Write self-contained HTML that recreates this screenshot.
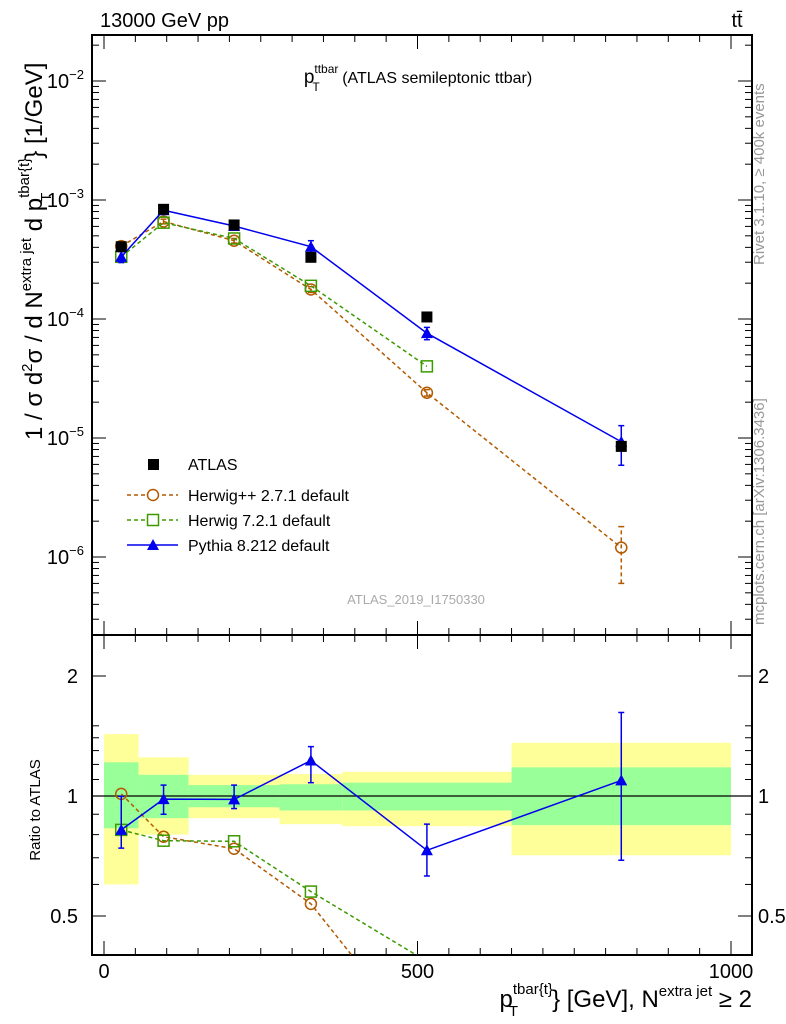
<!DOCTYPE html>
<html><head><meta charset="utf-8"><style>
html,body{margin:0;background:#fff;overflow:hidden;width:786px;height:1024px}
svg{display:block;font-family:"Liberation Sans",sans-serif}
</style></head><body>
<svg id="c" width="786" height="1024" viewBox="0 0 786 1024" xmlns="http://www.w3.org/2000/svg">
<text x="100" y="27" font-size="20">13000 GeV pp</text>
<text x="737" y="27" font-size="20" text-anchor="middle">tt̄</text>
<text x="418" y="83" font-size="19" text-anchor="middle">p<tspan font-size="12" dy="-10">ttbar</tspan><tspan font-size="12" dx="-26" dy="18">T</tspan><tspan dy="-8" dx="18" font-size="16"> (ATLAS semileptonic ttbar)</tspan></text>
<text transform="translate(764,265) rotate(-90)" font-size="15" fill="#999">Rivet 3.1.10, ≥ 400k events</text>
<text transform="translate(764,625) rotate(-90)" font-size="15" fill="#999">mcplots.cern.ch [arXiv:1306.3436]</text>
<text x="416" y="604" font-size="13" fill="#aaa" text-anchor="middle">ATLAS_2019_I1750330</text>
<text transform="translate(42,440) rotate(-90)" font-size="24">1 / σ d<tspan font-size="15" dy="-10">2</tspan><tspan dy="10">σ / d N</tspan><tspan font-size="15" dy="-11">extra jet</tspan><tspan dy="11"> d p</tspan><tspan font-size="15" dy="-13">tbar{t}</tspan><tspan font-size="15" dx="-44" dy="22">T</tspan><tspan dy="-9" dx="34">} [1/GeV]</tspan></text>
<text transform="translate(40,810) rotate(-90)" font-size="15" text-anchor="middle">Ratio to ATLAS</text>
<text x="752" y="1007" font-size="24" text-anchor="end">p<tspan font-size="15" dy="-13">tbar{t}</tspan><tspan font-size="15" dx="-44" dy="22">T</tspan><tspan dy="-9" dx="34">} [GeV], N</tspan><tspan font-size="15" dy="-11">extra jet</tspan><tspan dy="11"> ≥ 2</tspan></text>
<g id="legend">
<rect x="148" y="459" width="11" height="11" fill="#000"/>
<text x="188" y="470" font-size="16">ATLAS</text>
<line x1="127" y1="495" x2="178" y2="495" stroke="#b35900" stroke-width="1.5" stroke-dasharray="4,3"/>
<circle cx="153" cy="495" r="5.5" fill="#fff" stroke="#b35900" stroke-width="1.5"/>
<text x="188" y="501" font-size="16">Herwig++ 2.7.1 default</text>
<line x1="127" y1="520" x2="178" y2="520" stroke="#3c9a00" stroke-width="1.5" stroke-dasharray="4,3"/>
<rect x="147.5" y="514.5" width="11" height="11" fill="#fff" stroke="#3c9a00" stroke-width="1.5"/>
<text x="188" y="526" font-size="16">Herwig 7.2.1 default</text>
<line x1="127" y1="545" x2="178" y2="545" stroke="#0000ee" stroke-width="1.5"/>
<path d="M147,550 L153,539 L159,550Z" fill="#0000ee"/>
<text x="188" y="551" font-size="16">Pythia 8.212 default</text>
</g>
</svg>
<script>
const binEdges=[0,55,135,280,380,650,1000];
const binCenters=[27.5,95,207.5,330,515,825];
const atlas=[4.05e-4,8.35e-4,6.17e-4,3.3e-4,1.04e-4,8.5e-6];
const pythia=[3.33e-4,8.2e-4,6.05e-4,4.05e-4,7.6e-5,9.3e-6];
const pythiaErr=[0.35e-4,0.5e-4,0.4e-4,0.5e-4,0.9e-5,3.4e-6];
const herwigpp=[4.1e-4,6.6e-4,4.55e-4,1.77e-4,2.4e-5,1.2e-6];
const herwigppErr=[0.2e-4,0.3e-4,0.2e-4,0.1e-4,0.15e-5,0.6e-6];
const herwig7=[3.33e-4,6.45e-4,4.75e-4,1.9e-4,4.0e-5];
const yellowHi=[1.43,1.25,1.13,1.135,1.15,1.36];
const yellowLo=[0.6,0.8,0.88,0.85,0.84,0.71];
const greenHi=[1.215,1.13,1.065,1.07,1.08,1.18];
const greenLo=[0.83,0.88,0.937,0.92,0.92,0.845];
const pyRatioErrHi=[0.998,1.065,1.065,1.33,0.85,1.62];
const pyRatioErrLo=[0.74,0.9,0.93,1.08,0.63,0.69];
const mainTicks=[-2,-3,-4,-5,-6];
const ratioTicks=[0.5,1,2];
const xTicks=[0,500,1000];

const NS="http://www.w3.org/2000/svg";
const svg=document.getElementById('c');
const L=92,R=752,T=35,M=635,B=955;
const X=v=>104+v*0.627;
const Y=v=>200-119*(Math.log10(v)+3);
const YR=r=>796-120*Math.log2(r);
function el(tag,attrs,parent){const e=document.createElementNS(NS,tag);for(const k in attrs)e.setAttribute(k,attrs[k]);(parent||svg).appendChild(e);return e;}
const gBands=el('g',{});


for(let i=0;i<6;i++){
 const x1=X(binEdges[i]),x2=X(binEdges[i+1]);
 const y=el('rect',{x:x1,y:YR(yellowHi[i]),width:x2-x1,height:YR(yellowLo[i])-YR(yellowHi[i]),fill:'#ffff99'},gBands);
 
 
 const g=el('rect',{x:x1,y:YR(greenHi[i]),width:x2-x1,height:YR(greenLo[i])-YR(greenHi[i]),fill:'#99ff99'},gBands);
 
 
}
const ul=el('line',{x1:L,x2:R,y1:YR(1),y2:YR(1),stroke:'#000','stroke-width':1.2});


const f1=el('rect',{x:L,y:T,width:R-L,height:M-T,fill:'none',stroke:'#000','stroke-width':2});


const f2=el('rect',{x:L,y:M,width:R-L,height:B-M,fill:'none',stroke:'#000','stroke-width':2});


const gt=el('g',{stroke:'#000','stroke-width':1});


for(let v=0;v<=1000;v+=50){
 const len=(v%500===0)?14:7, x=X(v);
 el('line',{x1:x,x2:x,y1:B,y2:B-len},gt);el('line',{x1:x,x2:x,y1:M,y2:M-len},gt);
 el('line',{x1:x,x2:x,y1:M,y2:M+len},gt);el('line',{x1:x,x2:x,y1:T,y2:T+len},gt);
}
for(let d=-7;d<=-1;d++)for(let m=1;m<10;m++){
 const y=Y(m*Math.pow(10,d)); if(y<T||y>M)continue;
 const len=m===1?14:7;
 el('line',{x1:L,x2:L+len,y1:y,y2:y},gt);el('line',{x1:R,x2:R-len,y1:y,y2:y},gt);
}
for(let r=0.5;r<=2.01;r+=0.1){
 const y=YR(r); const maj=Math.abs(r-0.5)<1e-6||Math.abs(r-1)<1e-6||Math.abs(r-2)<1e-6;
 if(r>1.55&&!maj)continue;
 const len=maj?14:7;
 el('line',{x1:L,x2:L+len,y1:y,y2:y},gt);el('line',{x1:R,x2:R-len,y1:y,y2:y},gt);
}
mainTicks.forEach(d=>{
 const t=el('text',{x:84,y:Y(Math.pow(10,d))+7,'font-size':20,'text-anchor':'end'});
 t.innerHTML='10<tspan font-size="13" dy="-9">'+(d<0?'−'+(-d):d)+'</tspan>';
 
 
});
ratioTicks.forEach(r=>{
 const t=el('text',{x:78,y:YR(r)+7,'font-size':20,'text-anchor':'end'});t.textContent=r;
 
 
 const t2=el('text',{x:758,y:YR(r)+7,'font-size':20});t2.textContent=r;
 
 
});
xTicks.forEach(v=>{
 const t=el('text',{x:X(v),y:978,'font-size':20,'text-anchor':'middle'});t.textContent=v;
 
 
});
const defs=el('defs',{});
const cp1=el('clipPath',{id:'cm'},defs);el('rect',{x:L,y:T,width:R-L,height:M-T},cp1);
const cp2=el('clipPath',{id:'cr'},defs);el('rect',{x:L,y:M,width:R-L,height:B-M},cp2);
function series(vals,errs,yf,color,dash,marker,name,clip){
 const g=el('g',{'clip-path':'url(#'+clip+')'});
 
 
 const pts=vals.map((v,i)=>X(binCenters[i])+','+yf(v)).join(' ');
 const pl=el('polyline',{points:pts,fill:'none',stroke:color,'stroke-width':1.5,'stroke-dasharray':dash||'none'},g);
 
 
 vals.forEach((v,i)=>{
  const x=X(binCenters[i]),y=yf(v);
  if(errs){const [lo,hi]=errs(i);
   el('line',{x1:x,x2:x,y1:yf(lo),y2:yf(hi),stroke:color,'stroke-width':1.5,'stroke-dasharray':dash||'none'},g);
   el('line',{x1:x-3,x2:x+3,y1:yf(lo),y2:yf(lo),stroke:color,'stroke-width':1.5},g);
   el('line',{x1:x-3,x2:x+3,y1:yf(hi),y2:yf(hi),stroke:color,'stroke-width':1.5},g);}
  let m;
  if(marker==='tri')m=el('path',{d:`M${x-6},${y+5}L${x},${y-6}L${x+6},${y+5}Z`,fill:color},g);
  else if(marker==='circ')m=el('circle',{cx:x,cy:y,r:5.5,fill:'none',stroke:color,'stroke-width':1.5},g);
  else if(marker==='osq')m=el('rect',{x:x-5.5,y:y-5.5,width:11,height:11,fill:'none',stroke:color,'stroke-width':1.5},g);
  else m=el('rect',{x:x-5.5,y:y-5.5,width:11,height:11,fill:color},g);
  
  
 });
}
series(herwigpp,i=>[herwigpp[i]-herwigppErr[i],herwigpp[i]+herwigppErr[i]],Y,'#b35900','4,3','circ','herwigpp-series','cm');
series(herwig7,null,Y,'#3c9a00','4,3','osq','herwig7-series','cm');
series(pythia,i=>[pythia[i]-pythiaErr[i],pythia[i]+pythiaErr[i]],Y,'#0000ee',null,'tri','pythia-series','cm');
const ga=el('g',{});


atlas.forEach((v,i)=>{const r=el('rect',{x:X(binCenters[i])-5.5,y:Y(v)-5.5,width:11,height:11,fill:'#000'},ga);
 
 });
series(herwigpp.map((v,i)=>v/atlas[i]),null,YR,'#b35900','4,3','circ','herwigpp-ratio','cr');
series(herwig7.map((v,i)=>v/atlas[i]),null,YR,'#3c9a00','4,3','osq','herwig7-ratio','cr');
series(pythia.map((v,i)=>v/atlas[i]),i=>[pyRatioErrLo[i],pyRatioErrHi[i]],YR,'#0000ee',null,'tri','pythia-ratio','cr');
</script>
</body></html>
